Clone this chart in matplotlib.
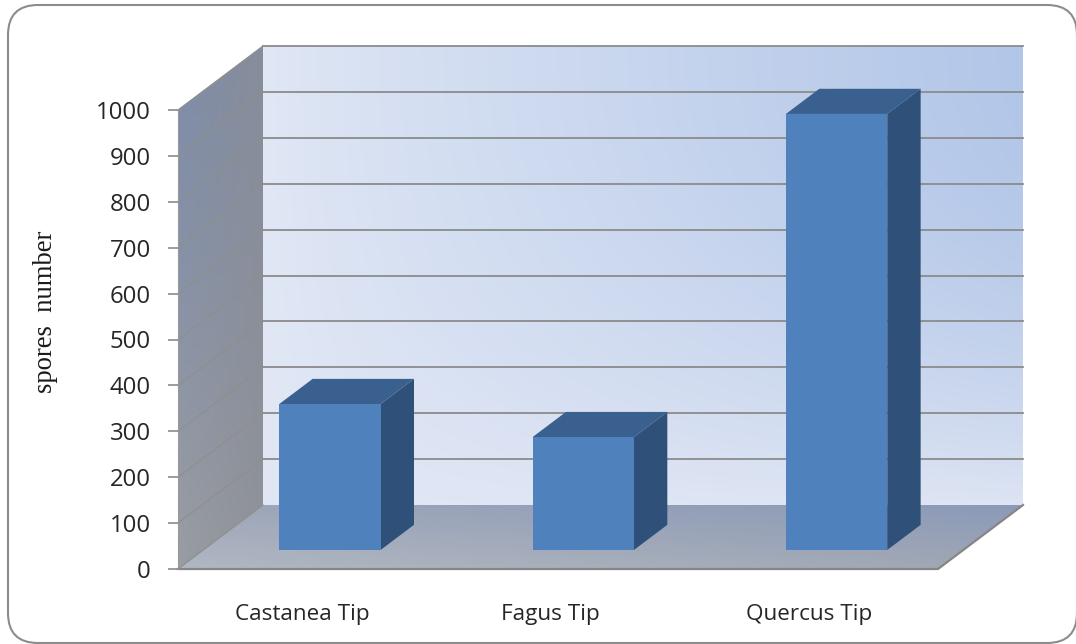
# Spore counts per tip type, drawn as a pseudo 3D column chart
import numpy as np
import matplotlib
matplotlib.use("Agg")
import matplotlib.pyplot as plt
from matplotlib.patches import Polygon, FancyBboxPatch

categories = ['Castanea Tip', 'Fagus Tip', 'Quercus Tip']
spores = [318, 246, 950]
yticks = [0, 100, 200, 300, 400, 500, 600, 700, 800, 900, 1000]

W, H = 1076, 644
LEFT, RIGHT, ZERO, TOP = 178, 938, 569, 110

# depth of the box, in data units
DX = 85 / ((RIGHT - LEFT) / 3)
DY = 64 / ((ZERO - TOP) / 1000)
BAR_W = 0.4
BAR_D0, BAR_D1 = 0.297, 0.69


def proj(x, v, d):
    return (x + d * DX, v + d * DY)


def gradient(ax, poly, rgb, gamma_u=1.0, gamma_v=1.0):
    # rgb holds the corner colours: top left, top right, bottom left, bottom right
    xy = np.array(poly)
    tl, tr, bl, br = [np.array(matplotlib.colors.to_rgb(c)) for c in rgb]
    u, v = np.meshgrid(np.linspace(0, 1, 256), np.linspace(0, 1, 256))
    u, v = u[..., None] ** gamma_u, v[..., None] ** gamma_v
    img = (1 - v) * ((1 - u) * tl + u * tr) + v * ((1 - u) * bl + u * br)
    extent = (xy[:, 0].min(), xy[:, 0].max(), xy[:, 1].min(), xy[:, 1].max())
    im = ax.imshow(img, extent=extent, origin='upper', aspect='auto', zorder=1,
                   interpolation='bilinear')
    clip = Polygon(poly, closed=True, transform=ax.transData)
    im.set_clip_box(ax.figure.bbox)
    im.set_clip_path(clip)
    return im


fig = plt.figure(figsize=(W / 100, H / 100), dpi=100, facecolor='white')

# rounded outer frame
frame_ax = fig.add_axes([0, 0, 1, 1], zorder=0)
frame_ax.set_xlim(0, W)
frame_ax.set_ylim(H, 0)
frame_ax.axis('off')
frame_ax.add_patch(FancyBboxPatch((38, 35), 1009, 578,
                                  boxstyle='round,pad=30,rounding_size=30',
                                  fc='white', ec='#8c8c8c', lw=1.5, clip_on=False))

ax = fig.add_axes([LEFT / W, 1 - ZERO / H, (RIGHT - LEFT) / W, (ZERO - TOP) / H], zorder=1)
ax.patch.set_visible(False)

# back wall, side wall and floor
wall = [proj(0, 0, 1), proj(3, 0, 1), proj(3, 1000, 1), proj(0, 1000, 1)]
side = [proj(0, 0, 0), proj(0, 0, 1), proj(0, 1000, 1), proj(0, 1000, 0)]
floor = [proj(0, 0, 0), proj(3, 0, 0), proj(3, 0, 1), proj(0, 0, 1)]
gradient(ax, wall, ['#e0e7f5', '#b2c6e8', '#e1e7f5', '#dde4f3'], gamma_u=0.9, gamma_v=2.2)
gradient(ax, side, ['#7f8da9', '#878d9a', '#9a9da3', '#8f9298'], gamma_v=1.3)
gradient(ax, floor, ['#9ea7b9', '#8b9ab9', '#b1b7c3', '#a0a6b3'])

# gridlines run along the back wall and down the side wall
for t in yticks:
    x0, y0 = proj(0, t, 0)
    x1, y1 = proj(0, t, 1)
    x2, y2 = proj(3, t, 1)
    if t > 0:
        ax.plot([x1, x2], [y1, y2], color='#8b8b8b', lw=1.3, zorder=2, clip_on=False)
    ax.plot([x0, x1], [y0, y1], color='#8f8f8c', lw=0.9, zorder=2, clip_on=False)

# floor edges
fx, fy = zip(proj(0, 0, 0), proj(3, 0, 0), proj(3, 0, 1))
ax.plot(fx, fy, color='#868686', lw=1.6, zorder=3, clip_on=False)
ax.plot([proj(0, 0, 0)[0]] * 2, [0, 1000], color='#9a9a9a', lw=0.8, zorder=3, clip_on=False)

# columns
for i, val in enumerate(spores):
    x0 = i + 0.5 - BAR_W / 2
    x1 = i + 0.5 + BAR_W / 2
    top = [proj(x0, val, BAR_D0), proj(x1, val, BAR_D0),
           proj(x1, val, BAR_D1), proj(x0, val, BAR_D1)]
    right = [proj(x1, 0, BAR_D0), proj(x1, 0, BAR_D1),
             proj(x1, val, BAR_D1), proj(x1, val, BAR_D0)]
    ax.add_patch(Polygon(right, closed=True, fc='#2f5179', ec='none', zorder=4, clip_on=False))
    ax.add_patch(Polygon(top, closed=True, fc='#39608e', ec='none', zorder=4, clip_on=False))
    fx0, base = proj(x0, 0, BAR_D0)
    ax.bar(fx0, val, width=BAR_W, bottom=base, align='edge', color='#4f81bd', zorder=5,
           clip_on=False)

ax.set_xlim(0, 3)
ax.set_ylim(0, 1000)
for s in ax.spines.values():
    s.set_visible(False)

ax.set_yticks(yticks)
ax.set_xticks([0.49, 1.47, 2.49])
ax.set_xticklabels(categories, fontfamily='Open Sans', fontsize=16.2, color='#262626')
ax.tick_params(axis='y', length=7.5, width=1.2, color='#8b8b8b', pad=12,
               labelsize=17.2, labelcolor='#262626')
ax.tick_params(axis='x', length=0, pad=25.5)
for lab in ax.get_yticklabels():
    lab.set_fontfamily('Open Sans')

fig.text(46 / W, 1 - 312 / H, 'spores  number', rotation=90, ha='center', va='center',
         fontfamily='Liberation Serif', fontsize=19.2, color='#1a1a1a')

plt.savefig('out.png', dpi=100)
